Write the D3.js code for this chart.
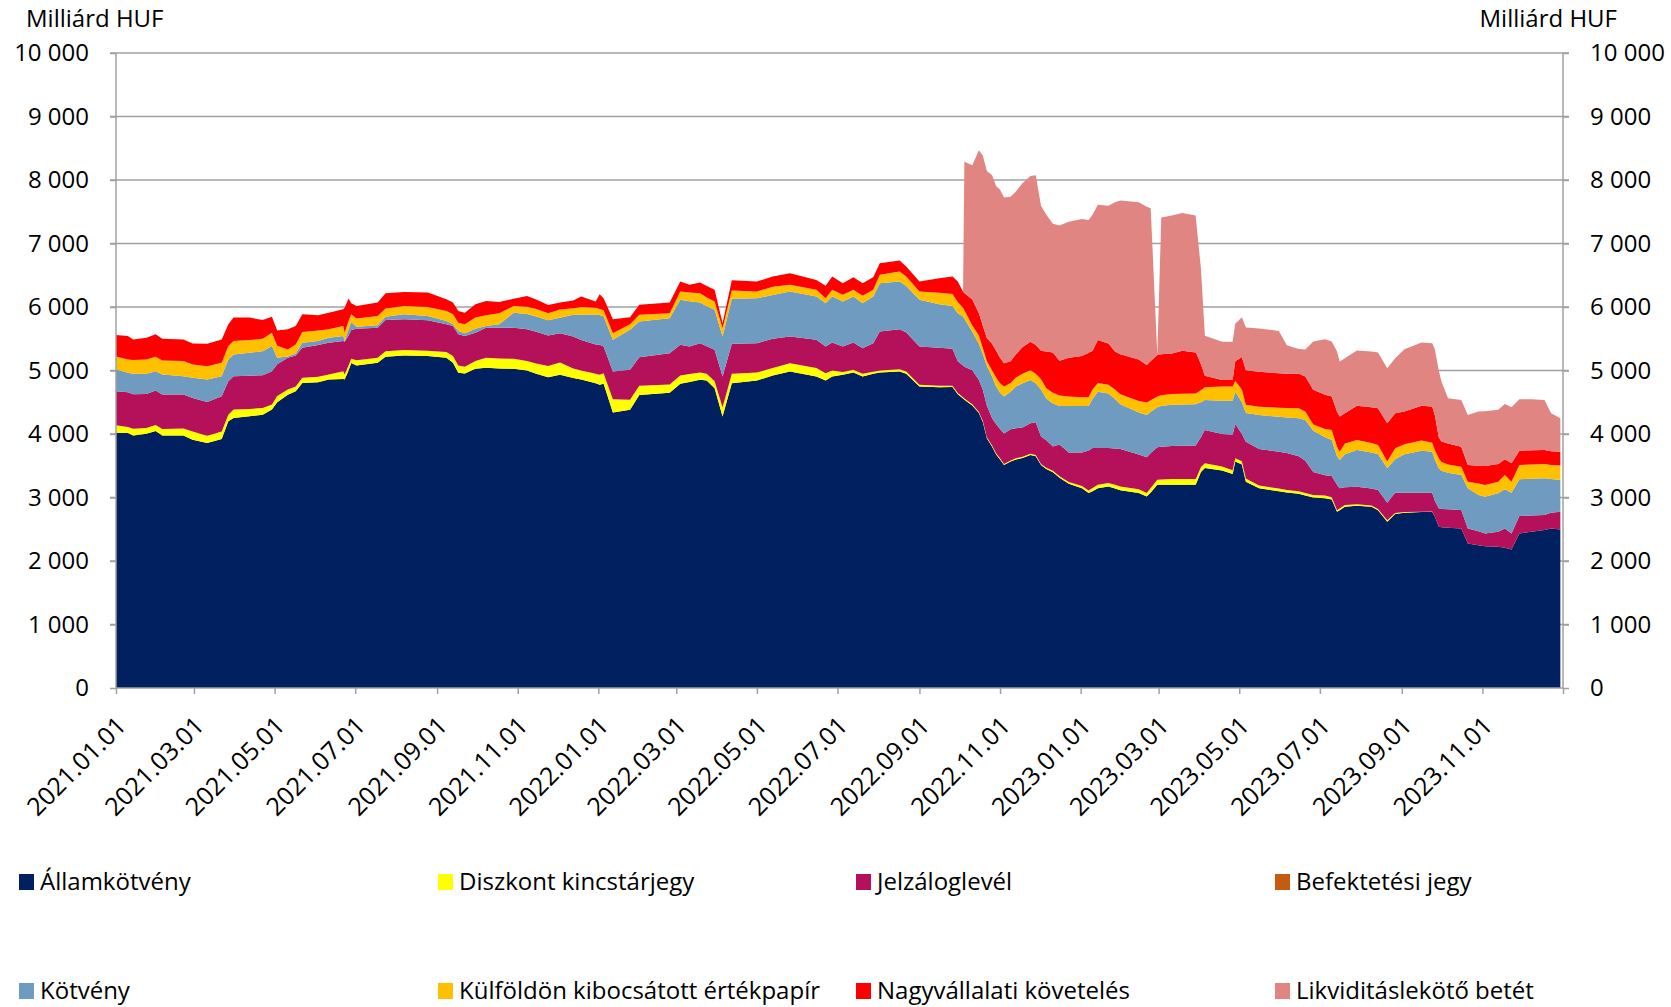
<!DOCTYPE html>
<html lang="hu">
<head>
<meta charset="UTF-8">
<title>Milliárd HUF</title>
<script src="https://cdn.jsdelivr.net/npm/d3@7"></script>
<style>
  body { margin: 0; background: #fff; }
  svg text { font-family: "Open Sans", sans-serif; fill: #000; }
</style>
</head>
<body>
<svg id="chart" width="1671" height="1007"></svg>
<script>
// napi adatok (kiolvasva), milliárd HUF
const dates = [
"2021-01-01","2021-01-10","2021-01-14","2021-01-24","2021-01-31","2021-02-05","2021-02-21","2021-02-28","2021-03-11","2021-03-22",
"2021-03-27","2021-03-31","2021-04-12","2021-04-22","2021-04-29","2021-05-03","2021-05-11","2021-05-17","2021-05-22","2021-06-03",
"2021-06-11","2021-06-22","2021-06-23","2021-06-26","2021-06-28","2021-07-02","2021-07-18","2021-07-24","2021-08-07","2021-08-25",
"2021-09-08","2021-09-13","2021-09-17","2021-09-22","2021-09-30","2021-10-08","2021-10-18","2021-10-29","2021-11-08","2021-11-15",
"2021-11-24","2021-12-03","2021-12-13","2021-12-19","2021-12-30","2022-01-02","2022-01-05","2022-01-12","2022-01-25","2022-02-01",
"2022-02-24","2022-03-04","2022-03-11","2022-03-19","2022-03-24","2022-03-30","2022-04-05","2022-04-12","2022-05-01","2022-05-13",
"2022-05-26","2022-06-15","2022-06-22","2022-06-27","2022-07-05","2022-07-13","2022-07-20","2022-07-28","2022-08-02","2022-08-17",
"2022-08-22","2022-09-01","2022-09-16","2022-09-26","2022-09-30","2022-10-04","2022-10-05","2022-10-11","2022-10-16","2022-10-19",
"2022-10-22","2022-10-26","2022-10-29","2022-11-01","2022-11-04","2022-11-09","2022-11-13","2022-11-18","2022-11-24","2022-11-28",
"2022-12-02","2022-12-06","2022-12-11","2022-12-16","2022-12-23","2023-01-02","2023-01-07","2023-01-10","2023-01-14","2023-01-22",
"2023-01-27","2023-01-31","2023-02-14","2023-02-20","2023-02-23","2023-02-28","2023-03-03","2023-03-11","2023-03-19","2023-03-29",
"2023-03-30","2023-04-02","2023-04-05","2023-04-18","2023-04-26","2023-04-28","2023-05-03","2023-05-06","2023-05-16","2023-05-31",
"2023-06-06","2023-06-15","2023-06-20","2023-06-26","2023-07-05","2023-07-10","2023-07-14","2023-07-16","2023-07-20","2023-07-29",
"2023-08-09","2023-08-14","2023-08-21","2023-08-27","2023-09-03","2023-09-16","2023-09-24","2023-09-26","2023-09-29","2023-10-01",
"2023-10-06","2023-10-16","2023-10-21","2023-10-29","2023-11-03","2023-11-13","2023-11-18","2023-11-23","2023-11-29","2023-12-08",
"2023-12-18","2023-12-23","2023-12-30"
];

const allamkotveny = [
4020,4015,3978,4004,4046,3978,3978,3909,3857,3920,
4199,4252,4278,4305,4384,4500,4620,4673,4805,4816,
4858,4868,4858,5000,5120,5079,5121,5216,5237,5227,
5200,5121,4963,4953,5026,5042,5030,5026,5000,4950,
4895,4932,4880,4860,4800,4774,4790,4338,4380,4616,
4650,4790,4820,4853,4843,4722,4275,4800,4843,4920,
4985,4906,4843,4906,4932,4970,4906,4948,4970,4985,
4950,4748,4738,4740,4625,4560,4540,4450,4330,4186,
3932,3800,3679,3600,3510,3566,3600,3623,3670,3650,
3510,3450,3397,3313,3217,3144,3070,3100,3144,3172,
3140,3115,3070,3014,3080,3200,3200,3200,3200,3200,
3250,3400,3465,3425,3369,3566,3521,3250,3144,3100,
3080,3060,3031,3000,2990,2970,2776,2800,2855,2870,
2855,2800,2618,2739,2760,2770,2776,2700,2539,2530,
2525,2513,2277,2250,2234,2224,2210,2182,2434,2460,
2490,2513,2497
];
const diszkont = [
116,95,105,90,95,100,110,132,116,121,
106,132,117,105,79,100,80,77,79,84,
79,121,79,80,65,84,79,89,84,83,
90,106,116,105,122,158,160,159,150,160,
175,194,150,140,150,158,168,210,158,142,
130,131,125,116,107,108,145,150,126,120,
131,134,115,94,43,41,42,32,30,35,
35,26,20,20,20,18,18,18,18,18,
18,18,18,18,18,18,18,18,18,18,
18,20,23,22,28,36,40,50,56,58,
60,60,60,56,70,80,85,90,90,90,
80,80,75,65,61,54,49,50,46,40,
40,40,39,40,40,35,24,25,25,25,
20,20,22,16,10,5,2,0,0,0,
0,0,0,0,0,0,0,0,0,0,
0,0,0
];
const jelzalog = [
537,547,543,537,543,543,533,527,532,553,
526,526,523,516,526,500,500,487,474,500,
500,475,511,470,452,495,474,491,485,480,
437,474,490,485,447,474,484,489,500,500,
480,462,505,480,460,472,420,437,473,452,
493,483,433,461,430,495,486,470,461,460,
419,443,420,441,403,430,403,450,614,631,
615,604,600,581,499,502,502,535,502,489,
500,432,461,462,478,489,472,460,482,518,
432,430,383,501,462,527,630,630,580,550,
570,588,549,564,550,512,515,520,525,530,
520,470,522,510,559,538,430,576,573,580,
580,550,510,360,320,334,400,319,280,275,
265,298,278,321,306,301,298,250,290,290,
290,289,236,220,200,236,303,252,274,255,
233,247,279
];
const befektetesi = new Array(dates.length).fill(0);
const kotveny = [
343,306,321,316,305,316,289,316,353,316,
343,343,361,379,396,100,20,32,79,64,
79,79,16,100,127,32,37,52,79,70,
53,26,53,42,63,26,53,237,240,240,
240,242,342,397,470,469,473,498,629,562,
551,709,712,641,630,631,629,710,709,690,
709,682,682,724,708,724,709,735,761,750,
730,735,687,676,756,770,760,607,570,563,
620,650,592,570,586,592,659,699,681,614,
740,660,677,603,732,732,699,770,885,857,
780,705,661,665,650,631,640,650,650,648,
630,550,473,524,535,507,500,454,536,550,
560,598,642,650,600,567,450,447,520,579,
570,568,542,525,604,662,646,650,631,600,
575,552,631,570,579,605,615,642,578,580,
579,530,499
];
const kulfoldon = [
205,211,217,227,227,221,238,211,210,211,
211,211,201,195,210,190,112,142,169,166,
132,157,131,130,121,127,148,127,132,140,
158,158,131,142,175,169,173,106,115,120,
110,130,105,123,110,97,99,105,90,105,
79,131,140,147,140,130,132,130,105,130,
105,105,79,105,105,105,116,105,131,158,
150,131,180,186,180,139,130,100,130,94,
80,100,140,150,157,140,141,150,152,150,
162,160,170,169,151,141,141,150,140,140,
150,157,180,197,180,169,170,170,170,169,
170,190,203,225,225,169,200,130,131,145,
150,158,131,100,130,158,150,131,170,157,
150,141,105,174,160,158,142,150,157,140,
130,132,105,180,184,184,226,173,226,225,
226,220,227
];
const nagyvallalati = [
337,369,326,342,353,342,342,332,354,369,
342,369,353,296,253,240,316,289,279,239,
263,264,395,353,175,200,210,242,221,227,
184,184,185,184,210,227,180,113,170,150,
130,111,120,165,96,232,189,220,110,157,
168,157,119,168,180,184,78,160,157,160,
183,157,194,210,184,199,199,199,184,173,
158,157,226,276,320,253,270,410,350,350,
360,420,423,400,366,339,366,419,451,450,
451,580,634,547,610,648,700,613,677,648,
600,631,652,591,620,653,645,638,678,647,
600,410,180,102,102,310,511,543,550,540,
540,544,552,545,540,526,550,552,477,537,
560,579,604,552,513,547,568,550,333,320,
330,315,263,280,299,279,247,289,226,225,
221,220,220
];
const likviditas = [
0,0,0,0,0,0,0,0,0,0,
0,0,0,0,0,0,0,0,0,0,
0,0,0,0,0,0,0,0,0,0,
0,0,0,0,0,0,0,0,0,0,
0,0,0,0,0,0,0,0,0,0,
0,0,0,0,0,0,0,0,0,0,
0,0,0,0,0,0,0,0,0,0,
0,0,0,0,0,0,2067,2111,2568,2683,
2631,2653,2591,2648,2609,2591,2564,2580,2608,2673,
2281,2154,2029,2130,2141,2158,2089,2141,2129,2169,
2350,2423,2479,2491,2405,0,2153,2174,2169,2158,
1978,1508,631,603,603,591,626,676,682,668,
447,390,425,762,874,867,950,868,867,872,
880,878,868,867,983,999,999,1036,1050,946,
714,736,789,853,864,852,873,884,810,803,
788,597,526
];

const seriesNames = ["Államkötvény","Diszkont kincstárjegy","Jelzáloglevél","Befektetési jegy",
  "Kötvény","Külföldön kibocsátott értékpapír","Nagyvállalati követelés","Likviditáslekötő betét"];
const seriesValues = [allamkotveny, diszkont, jelzalog, befektetesi, kotveny, kulfoldon, nagyvallalati, likviditas];
const colors = ["#002060","#FFFF00","#B5105A","#C55A11","#6E9BBF","#FFC000","#FF0000","#E08582"];
const xTickDates = ["2021-01-01","2021-03-01","2021-05-01","2021-07-01","2021-09-01","2021-11-01",
  "2022-01-01","2022-03-01","2022-05-01","2022-07-01","2022-09-01","2022-11-01",
  "2023-01-01","2023-03-01","2023-05-01","2023-07-01","2023-09-01","2023-11-01","2024-01-01"];
const yTicks = [0,1000,2000,3000,4000,5000,6000,7000,8000,9000,10000];

const parse = d3.timeParse("%Y-%m-%d");
const table = dates.map((d, i) => {
  const row = {date: parse(d)};
  seriesNames.forEach((k, j) => row[k] = seriesValues[j][i]);
  return row;
});

const plotL = 116, plotR = 1563, plotT = 53, plotB = 688;
const svg = d3.select("#chart");

const x = d3.scaleTime().domain([parse("2021-01-01"), parse("2024-01-01")]).range([plotL, plotR]);
const y = d3.scaleLinear().domain([0, 10000]).range([plotB, plotT]);
const fmt = d3.formatLocale({decimal: ",", thousands: " ", grouping: [3], currency: ["", ""]}).format(",");

// rácsvonalak
svg.append("g").selectAll("line").data(yTicks.slice(1)).enter().append("line")
  .attr("x1", plotL - 6).attr("x2", plotR + 6)
  .attr("y1", d => y(d)).attr("y2", d => y(d))
  .attr("stroke", "#A0A0A0").attr("stroke-width", 1.5);

const stack = d3.stack().keys(seriesNames);
const area = d3.area().x(d => x(d.data.date)).y0(d => y(d[0])).y1(d => y(d[1]));
svg.append("g").selectAll("path").data(stack(table)).enter().append("path")
  .attr("d", area).attr("fill", (d, i) => colors[i]);

// tengelyek
const yl = svg.append("g").attr("transform", `translate(${plotL},0)`)
  .call(d3.axisLeft(y).tickValues(yTicks).tickSize(6).tickPadding(21).tickFormat(fmt));
const yr = svg.append("g").attr("transform", `translate(${plotR},0)`)
  .call(d3.axisRight(y).tickValues(yTicks).tickSize(6).tickPadding(21).tickFormat(fmt));
const xa = svg.append("g").attr("transform", `translate(0,${plotB})`)
  .call(d3.axisBottom(x).tickValues(xTickDates.map(parse)).tickSize(6)
    .tickFormat((d, i) => i === xTickDates.length - 1 ? "" : d3.timeFormat("%Y.%m.%d")(d)));
[yl, yr, xa].forEach(g => {
  g.selectAll(".domain").attr("stroke", "#A0A0A0").attr("stroke-width", 1.5);
  g.selectAll(".tick line").attr("stroke", "#A0A0A0").attr("stroke-width", 1.5);
  g.selectAll("text").attr("font-size", 24).attr("font-family", "Open Sans");
});
yl.select(".domain").attr("d", `M0,${plotB}V${plotT}`);
yr.select(".domain").attr("d", `M0,${plotB}V${plotT}`);
xa.select(".domain").attr("d", `M${plotL},0H${plotR}`);
xa.selectAll("text").attr("y", 0).attr("dy", "0.35em").attr("text-anchor", "end")
  .attr("font-size", 25)
  .attr("transform", "translate(5,33) rotate(-45)");

svg.append("text").attr("x", 26).attr("y", 27).attr("font-size", 24).text("Milliárd HUF");
svg.append("text").attr("x", 1617).attr("y", 27).attr("font-size", 24).attr("text-anchor", "end").text("Milliárd HUF");

// jelmagyarázat
const legCols = [19, 438, 856, 1275], legRows = [882, 991];
const leg = svg.append("g").selectAll("g").data(seriesNames).enter().append("g")
  .attr("transform", (d, i) => `translate(${legCols[i % 4]},${legRows[Math.floor(i / 4)]})`);
leg.append("rect").attr("x", 0).attr("y", -8).attr("width", 15).attr("height", 16).attr("fill", (d, i) => colors[i]);
leg.append("text").attr("x", 21).attr("y", 0).attr("dy", "0.35em").attr("font-size", 24).text(d => d);
</script>
</body>
</html>
